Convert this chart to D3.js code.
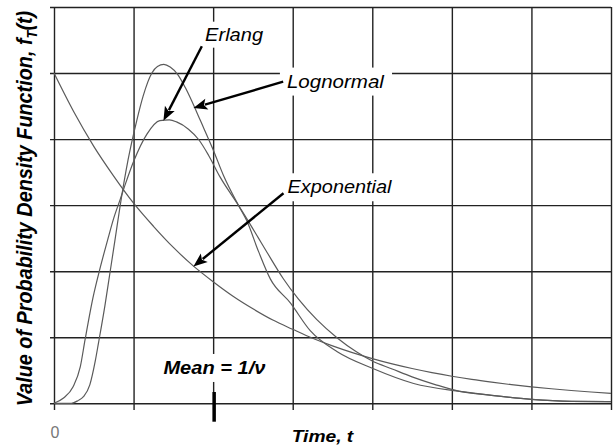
<!DOCTYPE html>
<html><head><meta charset="utf-8">
<script src="https://cdn.jsdelivr.net/npm/d3@7"></script>
<style>html,body{margin:0;padding:0;background:#fff;} svg{display:block;}</style>
</head><body>
<svg id="chart" width="615" height="446"></svg>
<script>
// ---- data ----
const xTicks = [0, 1, 2, 3, 4, 5, 6, 7];
const yTicks = [0, 0.1, 0.2, 0.3, 0.4, 0.5, 0.6];
const xZeroLabel = "0";

const expT = [0,0.25,0.5,0.75,1,1.25,1.5,1.75,2,2.25,2.5,2.75,3,3.25,3.5,3.75,4,4.25,4.5,4.75,5,5.25,5.5,5.75,6,6.25,6.5,6.75,7];
const expV = [0.5,0.441,0.389,0.344,0.303,0.268,0.236,0.208,0.184,0.162,0.143,0.126,0.112,0.0985,0.0869,0.0767,0.0677,0.0597,0.0527,0.0465,0.041,0.0362,0.032,0.0282,0.0249,0.022,0.0194,0.0171,0.0151];

const erlangT = [0,0.12,0.24,0.33,0.39,0.49,0.58,0.68,0.75,0.83,0.9,1.0,1.17,1.33,1.45,1.54,1.69,1.82,1.94,2.09,2.3,2.42,2.57,2.68,2.88,3.07,3.3,3.56,3.8,4.0,4.25,4.5,4.8,5.1,5.5,6.0,6.5,7.0];
const erlangV = [0,0.008,0.025,0.055,0.096,0.160,0.205,0.250,0.280,0.308,0.333,0.366,0.408,0.428,0.429,0.426,0.415,0.399,0.376,0.342,0.303,0.280,0.250,0.228,0.189,0.158,0.127,0.099,0.078,0.064,0.052,0.040,0.028,0.018,0.012,0.006,0.003,0.0025];

const lognT = [0.22,0.3,0.37,0.45,0.52,0.56,0.64,0.70,0.77,0.83,0.93,1.04,1.12,1.23,1.30,1.38,1.46,1.56,1.65,1.73,1.84,2.0,2.13,2.34,2.42,2.57,2.72,2.97,3.22,3.56,4.0,4.52,5.1,5.5,6.0,6.5,7.0];
const lognV = [0,0.004,0.010,0.028,0.065,0.092,0.148,0.195,0.250,0.298,0.368,0.428,0.465,0.500,0.510,0.513,0.509,0.497,0.478,0.458,0.428,0.384,0.345,0.295,0.277,0.230,0.188,0.152,0.110,0.078,0.053,0.030,0.018,0.012,0.006,0.003,0.0025];

const meanTime = 2;
const seriesLabels = ["Erlang", "Lognormal", "Exponential"];
const meanLabel = "Mean = 1/\u03BD";
const xTitle = "Time, t";
const yTitleMain = "Value of Probability Density Function, ";

// ---- drawing ----
const FONT = "'Liberation Sans', Arial, Helvetica, sans-serif";
const svg = d3.select("#chart");
const x = d3.scaleLinear().domain([0, 7]).range([54, 611]);
const y = d3.scaleLinear().domain([0, 0.6]).range([403.3, 7]);

// grid (vertical) via axis
const gx = svg.append("g").attr("transform", "translate(0,410)")
  .call(d3.axisBottom(x).tickValues(xTicks).tickSize(-(410 - 7)).tickSizeOuter(0).tickFormat(""));
gx.select(".domain").remove();
gx.selectAll(".tick line").attr("stroke", "#222").attr("stroke-width", 1.4);

// grid (horizontal) via axis
const gy = svg.append("g").attr("transform", "translate(50,0)")
  .call(d3.axisLeft(y).tickValues(yTicks).tickSize(-(611 - 50)).tickSizeOuter(0).tickFormat(""));
gy.select(".domain").remove();
gy.selectAll(".tick line").attr("stroke", "#222").attr("stroke-width", 1.4);

// curves
const line = d3.line().x(d => x(d[0])).y(d => y(d[1])).curve(d3.curveMonotoneX);
const series = [
  d3.zip(expT, expV),
  d3.zip(erlangT, erlangV),
  [[0, 0]].concat(d3.zip(lognT, lognV))
];
svg.append("g").selectAll("path").data(series).join("path")
  .attr("d", line).attr("fill", "none").attr("stroke", "#5a5a5a").attr("stroke-width", 1.2);

// labels with white boxes
function boxedText(str, t, v, size, weight, len, padX, padY) {
  const g = svg.append("g");
  const rect = g.append("rect").attr("fill", "#fff");
  const txt = g.append("text").attr("x", x(t)).attr("y", y(v))
    .attr("font-family", FONT).attr("font-size", size).attr("font-style", "italic")
    .attr("font-weight", weight).attr("fill", "#000")
    .attr("textLength", len).attr("lengthAdjust", "spacingAndGlyphs").text(str);
  const b = txt.node().getBBox();
  rect.attr("x", b.x - padX).attr("y", b.y - padY).attr("width", b.width + 2 * padX).attr("height", b.height + 2 * padY);
}
boxedText(seriesLabels[0], 1.899, 0.549, 18, "normal", 58, 5, 3);
boxedText(seriesLabels[1], 2.927, 0.478, 18, "normal", 97, 7, 4);
boxedText(seriesLabels[2], 2.935, 0.318, 18, "normal", 104, 6, 4);
boxedText(meanLabel, 1.375, 0.0444, 18, "bold", 102, 4, 4);

// arrows
function arrow(t0, v0, t1, v1) {
  const x0 = x(t0), y0 = y(v0), x1 = x(t1), y1 = y(v1);
  const dx = x1 - x0, dy = y1 - y0, L = Math.hypot(dx, dy);
  const ux = dx / L, uy = dy / L, hl = 14, hw = 5.5;
  const bx = x1 - ux * hl, by = y1 - uy * hl;
  svg.append("line").attr("x1", x0).attr("y1", y0).attr("x2", bx + ux * 2).attr("y2", by + uy * 2)
    .attr("stroke", "#000").attr("stroke-width", 2.4);
  svg.append("polygon").attr("points", [
    [x1, y1], [bx - uy * hw, by + ux * hw], [bx + ux * 3, by + uy * 3], [bx + uy * hw, by - ux * hw]
  ].map(p => p.join(",")).join(" ")).attr("fill", "#000");
}
arrow(1.858, 0.5405, 1.375, 0.4277);
arrow(2.88, 0.487, 1.752, 0.447);
arrow(2.884, 0.318, 1.752, 0.207);

// mean tick
svg.append("line").attr("x1", x(meanTime) + 1).attr("x2", x(meanTime) + 1)
  .attr("y1", 392).attr("y2", 421.7).attr("stroke", "#000").attr("stroke-width", 3.5);

// zero label
svg.append("text").attr("x", x(0) + 1).attr("y", 438.3).attr("text-anchor", "middle")
  .attr("font-family", FONT).attr("font-size", 16).attr("fill", "#777").text(xZeroLabel);

// x title
svg.append("text").attr("x", 291.7).attr("y", 441.7)
  .attr("font-family", FONT).attr("font-size", 16.5).attr("font-style", "italic").attr("font-weight", "bold")
  .attr("textLength", 61.6).attr("lengthAdjust", "spacingAndGlyphs").text(xTitle);

// y title
const yt = svg.append("text")
  .attr("transform", "translate(31.5,208.5) scale(1.12,1) rotate(-90)")
  .attr("text-anchor", "middle")
  .attr("font-family", FONT).attr("font-size", 19.8).attr("font-style", "italic").attr("font-weight", "bold");
yt.append("tspan").text(yTitleMain + "f");
yt.append("tspan").attr("font-size", 13).attr("dy", 5).text("T");
yt.append("tspan").attr("dy", -5).text("(t)");
</script>
</body></html>
